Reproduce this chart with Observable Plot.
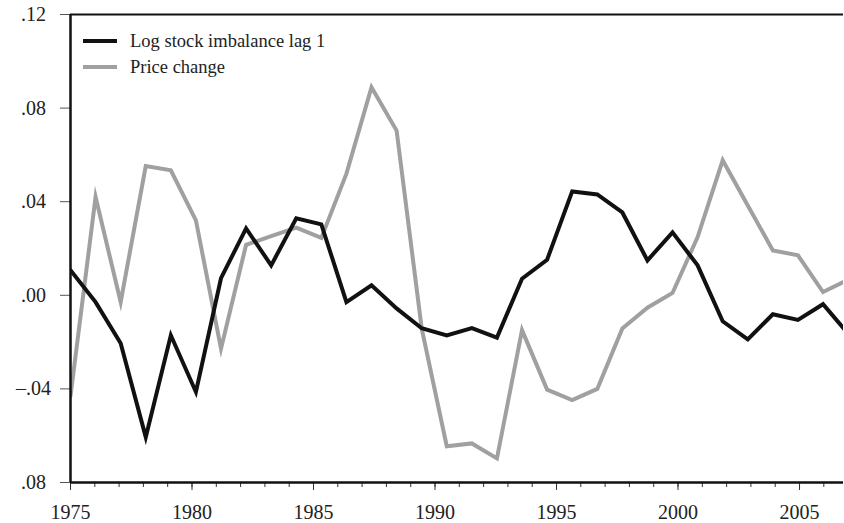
<!DOCTYPE html>
<html>
<head>
<meta charset="utf-8">
<script src="https://cdn.jsdelivr.net/npm/d3@7"></script>
<script src="https://cdn.jsdelivr.net/npm/@observablehq/plot@0.6"></script>
<style>
  html, body { margin: 0; padding: 0; background: #fff; }
  #wrap { position: relative; width: 844px; height: 523px; font-family: "Liberation Serif", "DejaVu Serif", serif; }
  #legend { position: absolute; left: 83px; top: 28px; font-size: 18.5px; color: #222; }
  #legend .row { display: flex; align-items: center; height: 26px; }
  #legend .sw { width: 34px; height: 4px; margin-right: 13px; }
</style>
</head>
<body>
<div id="wrap">
  <div id="chart"></div>
  <div id="legend"></div>
</div>
<script>
// Observation years (annual)
const years = [1975, 1976, 1977, 1978, 1979, 1980, 1981, 1982, 1983, 1984,
               1985, 1986, 1987, 1988, 1989, 1990, 1991, 1992, 1993, 1994,
               1995, 1996, 1997, 1998, 1999, 2000, 2001, 2002, 2003, 2004,
               2005, 2006];

// Series values
const logStockImbalanceLag1 = [0.0107, -0.0029, -0.0205, -0.0606, -0.0171, -0.0413, 0.0073, 0.0286, 0.0128, 0.0329,
                               0.0303, -0.0029, 0.0043, -0.0056, -0.0141, -0.0171, -0.0140, -0.0181, 0.0071, 0.0152,
                               0.0444, 0.0431, 0.0354, 0.0149, 0.0269, 0.0128, -0.0111, -0.0188, -0.0081, -0.0105,
                               -0.0038, -0.0164];
const priceChange = [-0.0430, 0.0420, -0.0029, 0.0552, 0.0534, 0.0320, -0.0228, 0.0216, 0.0253, 0.0289,
                     0.0245, 0.0520, 0.0889, 0.0704, -0.0141, -0.0645, -0.0633, -0.0697, -0.0149, -0.0403,
                     -0.0448, -0.0400, -0.0142, -0.0053, 0.0010, 0.0249, 0.0577, 0.0384, 0.0192, 0.0171,
                     0.0014, 0.0066];

const seriesNames = ["Log stock imbalance lag 1", "Price change"];
const seriesColors = ["#111111", "#a0a0a0"];

// Axis ticks and labels
const xMajorTicks = [1975, 1980, 1985, 1990, 1995, 2000, 2005];
const xMinorTicks = years;
const yTicks = [-0.08, -0.04, 0, 0.04, 0.08, 0.12];
const yTickLabels = [".08", "\u2013.04", ".00", ".04", ".08", ".12"];

// The original plots the 32 observations stretched over a 32-year axis span
const stretch = 32 / 31;
const table = [];
years.forEach((yr, i) => {
  const pos = 1975 + (yr - 1975) * stretch;
  table.push({series: seriesNames[0], pos, value: logStockImbalanceLag1[i]});
  table.push({series: seriesNames[1], pos, value: priceChange[i]});
});

const chart = Plot.plot({
  width: 844,
  height: 523,
  marginLeft: 70,
  marginRight: 1,
  marginTop: 14,
  marginBottom: 41,
  style: {fontFamily: "'Liberation Serif', 'DejaVu Serif', serif", fontSize: "20px", color: "#222", background: "#fff"},
  x: {domain: [1975, 2006.81], label: null},
  y: {domain: [-0.08, 0.12], label: null},
  color: {domain: seriesNames, range: seriesColors},
  marks: [
    Plot.axisX({ticks: xMinorTicks, tickSize: 5, text: null, label: null, stroke: "#333", strokeWidth: 1}),
    Plot.axisX({ticks: xMajorTicks, tickSize: 8, tickPadding: 14, label: null, tickFormat: d => String(d), stroke: "#333", strokeWidth: 1, fill: "#222"}),
    Plot.axisY({ticks: yTicks, tickSize: 10, tickPadding: 27, textAnchor: "middle", label: null,
                tickFormat: d => yTickLabels[yTicks.indexOf(d)], stroke: "#555", strokeWidth: 1, fill: "#222"}),
    Plot.line(table.filter(d => d.series === seriesNames[1]), {x: "pos", y: "value", stroke: "series", strokeWidth: 4, strokeLinejoin: "miter", strokeMiterlimit: 10, clip: true}),
    Plot.line(table.filter(d => d.series === seriesNames[0]), {x: "pos", y: "value", stroke: "series", strokeWidth: 4, strokeLinejoin: "miter", strokeMiterlimit: 10, clip: true}),
    Plot.ruleY([0.12], {stroke: "#111", strokeWidth: 2}),
    Plot.ruleY([-0.08], {stroke: "#111", strokeWidth: 2.5}),
    Plot.ruleX([1975], {stroke: "#111", strokeWidth: 2.5})
  ]
});
document.getElementById("chart").appendChild(chart);

const legend = document.getElementById("legend");
seriesNames.forEach((name, i) => {
  const row = document.createElement("div");
  row.className = "row";
  const sw = document.createElement("div");
  sw.className = "sw";
  sw.style.background = seriesColors[i];
  const label = document.createElement("span");
  label.textContent = name;
  row.appendChild(sw);
  row.appendChild(label);
  legend.appendChild(row);
});
</script>
</body>
</html>
